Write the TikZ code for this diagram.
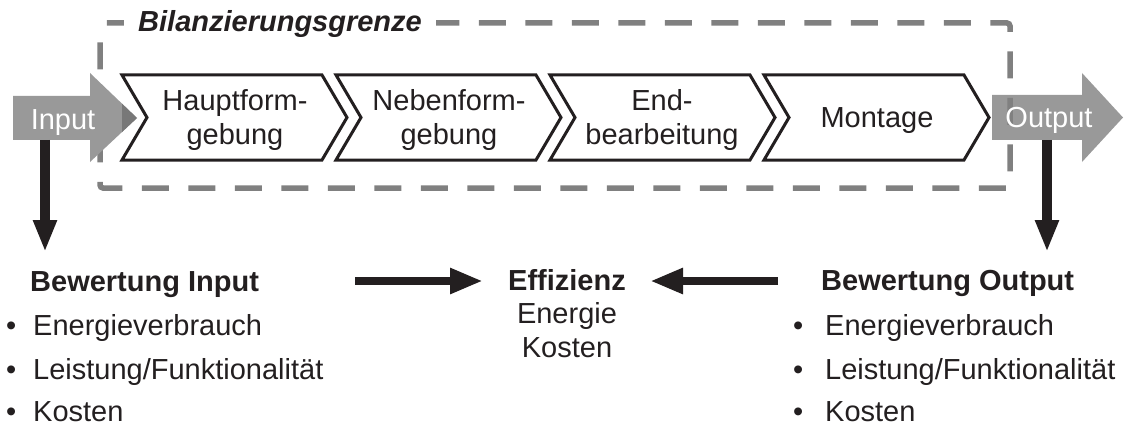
\documentclass[tikz,border=0pt]{standalone}
\usepackage{fontspec}
\setmainfont{Liberation Sans}
\usetikzlibrary{arrows.meta}
\definecolor{ink}{HTML}{231F20}
\definecolor{flowgray}{HTML}{999999}
\definecolor{flowdark}{HTML}{787878}
\definecolor{boundgray}{HTML}{808080}
\tikzset{
  chevron/.style={draw=ink, line width=3pt, fill=white, line join=miter},
  steplabel/.style={align=center, text=ink, inner sep=0pt},
  flowlabel/.style={text=white, inner sep=0pt, anchor=base},
  plain/.style={text=ink, inner sep=0pt, anchor=base west},
  centered/.style={text=ink, inner sep=0pt, anchor=base},
  bigarrow/.style={draw=ink, line width=10pt, -{Triangle[length=32pt,width=22pt]}},
  midarrow/.style={draw=ink, line width=8.5pt, -{Triangle[length=33pt,width=24pt]}},
}
\begin{document}
\begin{tikzpicture}[x=1pt,y=-1pt,font=\fontsize{29}{34.8}\selectfont]
\useasboundingbox (0,0) rectangle (1124,425);

% output flow arrow (under the boundary)
\fill[flowgray] (992,95) -- (1082,95) -- (1082,73) -- (1123,117.5) -- (1082,162) -- (1082,140) -- (992,140) -- cycle;

% system boundary
\draw[boundgray, line width=5.5pt, dash pattern=on 27pt off 19.5pt, dash phase=27pt, rounded corners=3pt]
  (100,40) -- (100,23) -- (1010,23) -- (1010,188) -- (100,188) -- cycle;

% input flow arrow
\fill[flowgray] (13,96) -- (90,96) -- (90,73) -- (137,118) -- (90,162) -- (90,140) -- (13,140) -- cycle;
\begin{scope}
  \clip (122,60) rectangle (140,180);
  \fill[flowdark] (90,73) -- (137,118) -- (90,162) -- cycle;
\end{scope}

% process chevrons
\foreach \L in {122,336,550,764}{
  \draw[chevron] (\L,75) -- ++(200,0) -- ++(25,42.5) -- ++(-25,42.5) -- ++(-200,0) -- ++(25,-42.5) -- cycle;
}
\node[steplabel] (haupt) at (235,120) {Hauptform-\\gebung};
\node[steplabel] (neben) at (449,120) {Nebenform-\\gebung};
\node[steplabel] (end)   at (662,120) {End-\\bearbeitung};
\node[centered] (mont) at (877,128) {Montage};

\node[flowlabel] (inlbl)  at (63,129) {Input};
\node[flowlabel] (outlbl) at (1049,128) {Output};

\node[centered, fill=white, inner xsep=14pt, inner ysep=3pt, font=\fontsize{29}{34.8}\selectfont\bfseries\itshape] (title) at (280,32) {Bilanzierungsgrenze};

% vertical arrows
\coordinate (inA) at (45,140);
\coordinate (inB) at (45,252);
\coordinate (outA) at (1047,140);
\coordinate (outB) at (1047,252);
\draw[bigarrow] (inA) -- (inB);
\draw[bigarrow] (outA) -- (outB);

% left evaluation
\node[plain, font=\fontsize{29}{34.8}\selectfont\bfseries] (bewin) at (30,291) {Bewertung Input};
\node[plain] (binA) at (6,335) {•};
\node[plain] (inE) at (33,335) {Energieverbrauch};
\node[plain] (binB) at (6,379) {•};
\node[plain] (inL) at (33,379) {Leistung/Funktionalität};
\node[plain] (binC) at (6,421) {•};
\node[plain] (inK) at (33,421) {Kosten};

% right evaluation
\node[plain, font=\fontsize{29}{34.8}\selectfont\bfseries] (bewout) at (821,290) {Bewertung Output};
\node[plain] (boutA) at (793,335) {•};
\node[plain] (outE) at (825,335) {Energieverbrauch};
\node[plain] (boutB) at (793,379) {•};
\node[plain] (outL) at (825,379) {Leistung/Funktionalität};
\node[plain] (boutC) at (793,421) {•};
\node[plain] (outK) at (825,421) {Kosten};

% efficiency
\node[centered, font=\fontsize{29}{34.8}\selectfont\bfseries] (eff) at (567,290) {Effizienz};
\node[centered] (effE) at (567,323) {Energie};
\node[centered] (effK) at (567,357) {Kosten};

\coordinate (lA) at (355,281);
\coordinate (lB) at (483,281);
\coordinate (rA) at (778,281);
\coordinate (rB) at (650,281);
\draw[midarrow] (lA) -- (lB);
\draw[midarrow] (rA) -- (rB);
\end{tikzpicture}
\end{document}
